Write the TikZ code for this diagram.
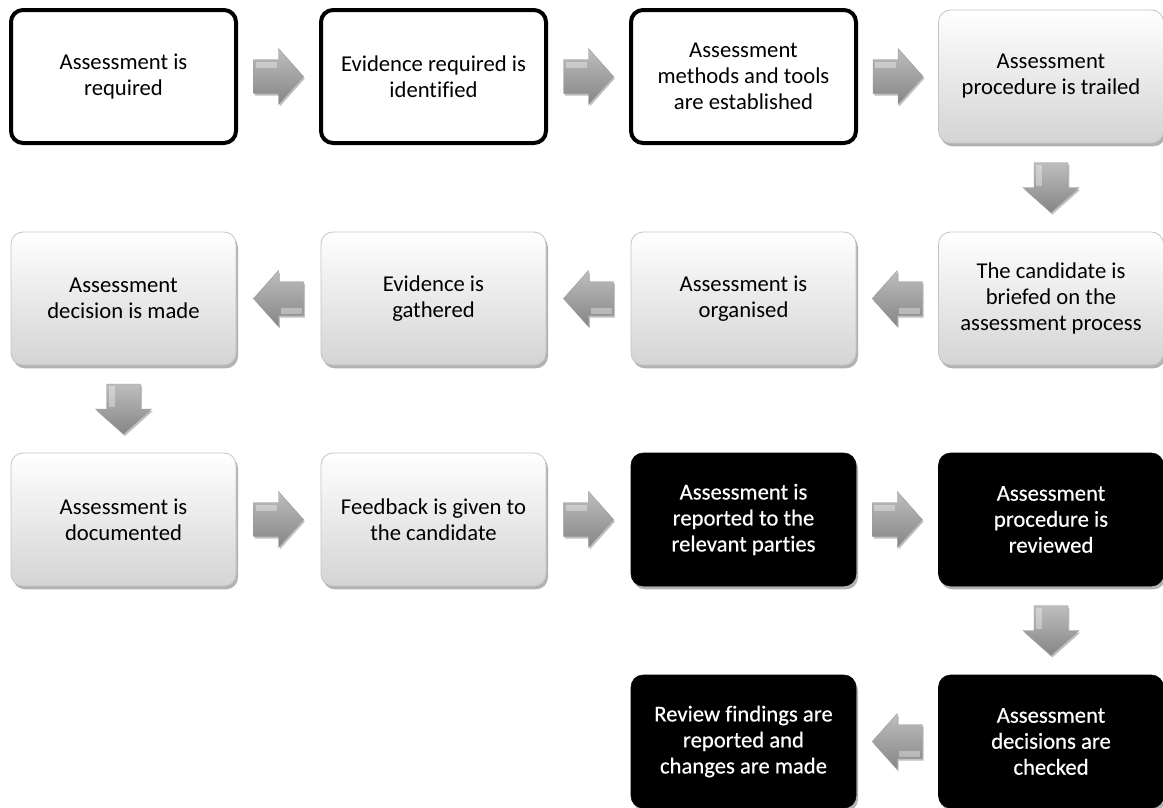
\documentclass[tikz,border=0pt]{standalone}
\usepackage{fontspec}
\setmainfont{Carlito}[Ligatures=CommonOff]
\usetikzlibrary{calc,shadows}
\definecolor{boxbot}{HTML}{D4D4D4}
\definecolor{boxline}{HTML}{C4C4C4}
\definecolor{arrtop}{HTML}{BEBEBE}
\definecolor{arrbot}{HTML}{858585}
\tikzset{
  base/.style={rounded corners=9pt, minimum width=168.75pt, minimum height=99.75pt,
    align=center, font=\fontsize{17}{19.5}\selectfont, inner sep=2pt},
  outlined/.style={base, draw=black, line width=3pt, fill=white},
  grad/.style={base, draw=boxline, line width=0.6pt, top color=white, bottom color=boxbot,
    drop shadow={shadow xshift=1.5pt, shadow yshift=-2.5pt, opacity=0.3, fill=black}},
  dark/.style={base, fill=black, text=white, draw=black,
    font=\fontsize{17}{19.5}\selectfont\addfontfeature{FakeBold=0.4},
    drop shadow={shadow xshift=1.5pt, shadow yshift=-2.5pt, opacity=0.3, fill=black}},
  arrowfill/.style={top color=arrtop, bottom color=arrbot, draw=gray!80, line width=0.3pt,
    drop shadow={shadow xshift=1pt, shadow yshift=-1.5pt, opacity=0.25, fill=black}},
  pics/barrow/.style={code={
    \path[arrowfill] (-25,-17) -- (0,-17) -- (0,-28) -- (25,0) -- (0,28) -- (0,17) -- (-25,17) -- cycle;
    \fill[white, opacity=0.35] (-23,-15) -- (-2,-15) -- (-2,-9) -- (-23,-9) -- cycle;
  }},
  downarrow/.style={rotate=-90, yscale=-1}
}
\begin{document}
\begin{tikzpicture}[x=0.75pt, y=-0.75pt]
\useasboundingbox (0,0) rectangle (1163,807);
% row 1
\node[outlined] (n1) at (123.5,76.5) {Assessment is\\required};
\node[outlined] (n2) at (433.5,76.5) {Evidence required is\\identified};
\node[outlined] (n3) at (743.5,76.5) {Assessment\\methods and tools\\are established};
\node[grad] (n4) at (1051,76.5) {Assessment\\procedure is trailed};
% row 2
\node[grad] (n5) at (1051,298.5) {The candidate is\\briefed on the\\assessment process};
\node[grad] (n6) at (743.5,298.5) {Assessment is\\organised};
\node[grad] (n7) at (433.5,298.5) {Evidence is\\gathered};
\node[grad] (n8) at (123.5,298.5) {Assessment\\decision is made};
% row 3
\node[grad] (n9) at (123.5,519.5) {Assessment is\\documented};
\node[grad] (n10) at (433.5,519.5) {Feedback is given to\\the candidate};
\node[dark] (n11) at (743.5,519.5) {Assessment is\\reported to the\\relevant parties};
\node[dark] (n12) at (1051,519.5) {Assessment\\procedure is\\reviewed};
% row 4
\node[dark] (n13) at (1051,741.5) {Assessment\\decisions are\\checked};
\node[dark] (n14) at (743.5,741.5) {Review findings are\\reported and\\changes are made};
% arrows
\pic at ($(n1.east)!0.5!(n2.west)$) {barrow};
\pic at ($(n2.east)!0.5!(n3.west)$) {barrow};
\pic at ($(n3.east)!0.5!(n4.west)$) {barrow};
\pic[downarrow] at ($(n4.south)!0.5!(n5.north)$) {barrow};
\pic[rotate=180] at ($(n5.west)!0.5!(n6.east)$) {barrow};
\pic[rotate=180] at ($(n6.west)!0.5!(n7.east)$) {barrow};
\pic[rotate=180] at ($(n7.west)!0.5!(n8.east)$) {barrow};
\pic[downarrow] at ($(n8.south)!0.5!(n9.north)$) {barrow};
\pic at ($(n9.east)!0.5!(n10.west)$) {barrow};
\pic at ($(n10.east)!0.5!(n11.west)$) {barrow};
\pic at ($(n11.east)!0.5!(n12.west)$) {barrow};
\pic[downarrow] at ($(n12.south)!0.5!(n13.north)$) {barrow};
\pic[rotate=180] at ($(n13.west)!0.5!(n14.east)$) {barrow};
\end{tikzpicture}
\end{document}
